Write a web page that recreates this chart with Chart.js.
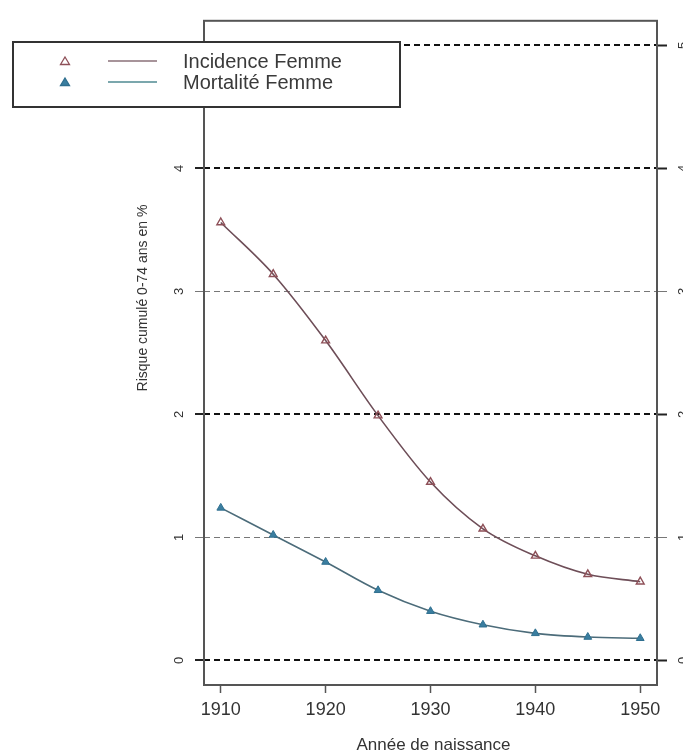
<!DOCTYPE html>
<html lang="fr">
<head>
<meta charset="utf-8">
<title>Risque cumulé 0-74 ans</title>
<script src="https://cdn.jsdelivr.net/npm/chart.js@4/dist/chart.umd.min.js"></script>
<style>
  html, body { margin: 0; padding: 0; background: #fff; }
  canvas { display: block; }
</style>
</head>
<body>
<canvas id="risque" width="683" height="754"></canvas>
<script>
// ── Données ─────────────────────────────────────────────────
const annees = [1910, 1915, 1920, 1925, 1930, 1935, 1940, 1945, 1950]
const incidenceFemme = [3.56, 3.14, 2.6, 1.99, 1.45, 1.07, 0.85, 0.7, 0.64]
const mortaliteFemme = [1.24, 1.02, 0.8, 0.57, 0.4, 0.29, 0.22, 0.19, 0.18]
const xTicks = [1910, 1920, 1930, 1940, 1950]
const yTicks = [0, 1, 2, 3, 4, 5]
const yTicksForts = [0, 2, 4, 5] // lignes en pointillé épais

const font = '"Liberation Sans", Arial, sans-serif'
const textColor = '#333'

const points = (serie) => annees.map((a, i) => ({ x: a, y: serie[i] }))

// ── Cadre, titres d'axes et légende ─────────────────────────
const decor = {
  id: 'decor',
  afterDatasetsDraw(chart) {
    const { ctx, chartArea: a } = chart
    ctx.save()
    ctx.strokeStyle = '#555'
    ctx.lineWidth = 2
    ctx.strokeRect(a.left, a.top, a.right - a.left, a.bottom - a.top)
    ctx.restore()
  },
  afterDraw(chart) {
    const { ctx, chartArea: a } = chart
    ctx.save()
    ctx.fillStyle = textColor

    // titre axe x
    ctx.font = `17px ${font}`
    ctx.textAlign = 'center'
    ctx.textBaseline = 'middle'
    ctx.fillText('Année de naissance', (a.left + a.right) / 2 + 3, 745)

    // titre axe y
    ctx.save()
    ctx.translate(143, 298)
    ctx.rotate(-Math.PI / 2)
    ctx.font = `14px ${font}`
    ctx.fillText('Risque cumulé 0-74 ans en %', 0, 0)
    ctx.restore()

    // légende
    const box = { x: 13, y: 42, w: 387, h: 65 }
    ctx.fillStyle = '#fff'
    ctx.fillRect(box.x, box.y, box.w, box.h)
    ctx.strokeStyle = '#333'
    ctx.lineWidth = 2
    ctx.strokeRect(box.x, box.y, box.w, box.h)

    chart.data.datasets.forEach((ds, i) => {
      const y = 61 + i * 21
      // marqueur
      ctx.beginPath()
      ctx.moveTo(65, y - 4)
      ctx.lineTo(69.5, y + 3.5)
      ctx.lineTo(60.5, y + 3.5)
      ctx.closePath()
      ctx.lineWidth = 1.3
      ctx.strokeStyle = ds.pointBorderColor
      ctx.fillStyle = ds.pointBackgroundColor
      ctx.fill()
      ctx.stroke()
      // trait
      ctx.beginPath()
      ctx.moveTo(108, y)
      ctx.lineTo(157, y)
      ctx.strokeStyle = ds.legendLine
      ctx.lineWidth = 1.5
      ctx.stroke()
      // libellé
      ctx.fillStyle = '#3a3a3a'
      ctx.font = `20px ${font}`
      ctx.textAlign = 'left'
      ctx.textBaseline = 'middle'
      ctx.fillText(ds.label, 183, y + 1)
    })
    ctx.restore()
  },
}

// ── Graphique ───────────────────────────────────────────────
new Chart(document.getElementById('risque'), {
  type: 'line',
  data: {
    datasets: [
      {
        label: 'Incidence Femme',
        data: points(incidenceFemme),
        borderColor: '#6e4e58',
        legendLine: '#8a7078',
        borderWidth: 1.6,
        pointStyle: 'triangle',
        pointRadius: 4.5,
        pointBorderWidth: 1.4,
        pointBorderColor: '#8e5058',
        pointBackgroundColor: 'rgba(255,255,255,0)',
        cubicInterpolationMode: 'monotone',
      },
      {
        label: 'Mortalité Femme',
        data: points(mortaliteFemme),
        borderColor: '#4c6c7a',
        legendLine: '#4f8a92',
        borderWidth: 1.6,
        pointStyle: 'triangle',
        pointRadius: 4.5,
        pointBorderWidth: 1,
        pointBorderColor: '#2f6f8f',
        pointBackgroundColor: '#3a7ea0',
        cubicInterpolationMode: 'monotone',
      },
    ],
  },
  options: {
    responsive: false,
    animation: false,
    devicePixelRatio: 1,
    layout: { padding: { top: 16, left: 0, right: 0, bottom: 0 } },
    plugins: {
      legend: { display: false },
      tooltip: { enabled: false },
    },
    scales: {
      x: {
        type: 'linear',
        min: 1908.4,
        max: 1951.6,
        afterBuildTicks: (s) => { s.ticks = xTicks.map((v) => ({ value: v })) },
        afterFit: (s) => { s.height = 69 },
        border: { display: false },
        grid: { drawOnChartArea: false, tickLength: 8, tickColor: '#555', tickWidth: 1.5 },
        ticks: {
          color: textColor,
          font: { family: font, size: 18 },
          padding: 6,
          maxRotation: 0,
          callback: (v) => String(v),
        },
      },
      y: {
        position: 'left',
        min: -0.2,
        max: 5.2,
        afterBuildTicks: (s) => { s.ticks = yTicks.map((v) => ({ value: v })) },
        afterFit: (s) => { s.width = 204 },
        border: { display: false, dash: [6, 4] },
        grid: {
          tickLength: 9,
          color: (c) => (yTicksForts.includes(c.tick.value) ? '#111' : '#777'),
          lineWidth: (c) => (yTicksForts.includes(c.tick.value) ? 2 : 1),
          tickColor: (c) => (yTicksForts.includes(c.tick.value) ? '#222' : '#777'),
          tickWidth: (c) => (yTicksForts.includes(c.tick.value) ? 2 : 1),
        },
        ticks: {
          color: textColor,
          font: { family: font, size: 13 },
          minRotation: 90,
          maxRotation: 90,
          crossAlign: 'center',
          padding: 12,
        },
      },
      yDroite: {
        position: 'right',
        min: -0.2,
        max: 5.2,
        afterBuildTicks: (s) => { s.ticks = yTicks.map((v) => ({ value: v })) },
        afterFit: (s) => { s.width = 26 },
        border: { display: false },
        grid: {
          drawOnChartArea: false,
          tickLength: 10,
          tickColor: (c) => (yTicksForts.includes(c.tick.value) ? '#222' : '#777'),
          tickWidth: (c) => (yTicksForts.includes(c.tick.value) ? 2 : 1),
        },
        ticks: {
          color: textColor,
          font: { family: font, size: 13 },
          minRotation: 90,
          maxRotation: 90,
          crossAlign: 'center',
          padding: 13,
        },
      },
    },
  },
  plugins: [decor],
})
</script>
</body>
</html>
